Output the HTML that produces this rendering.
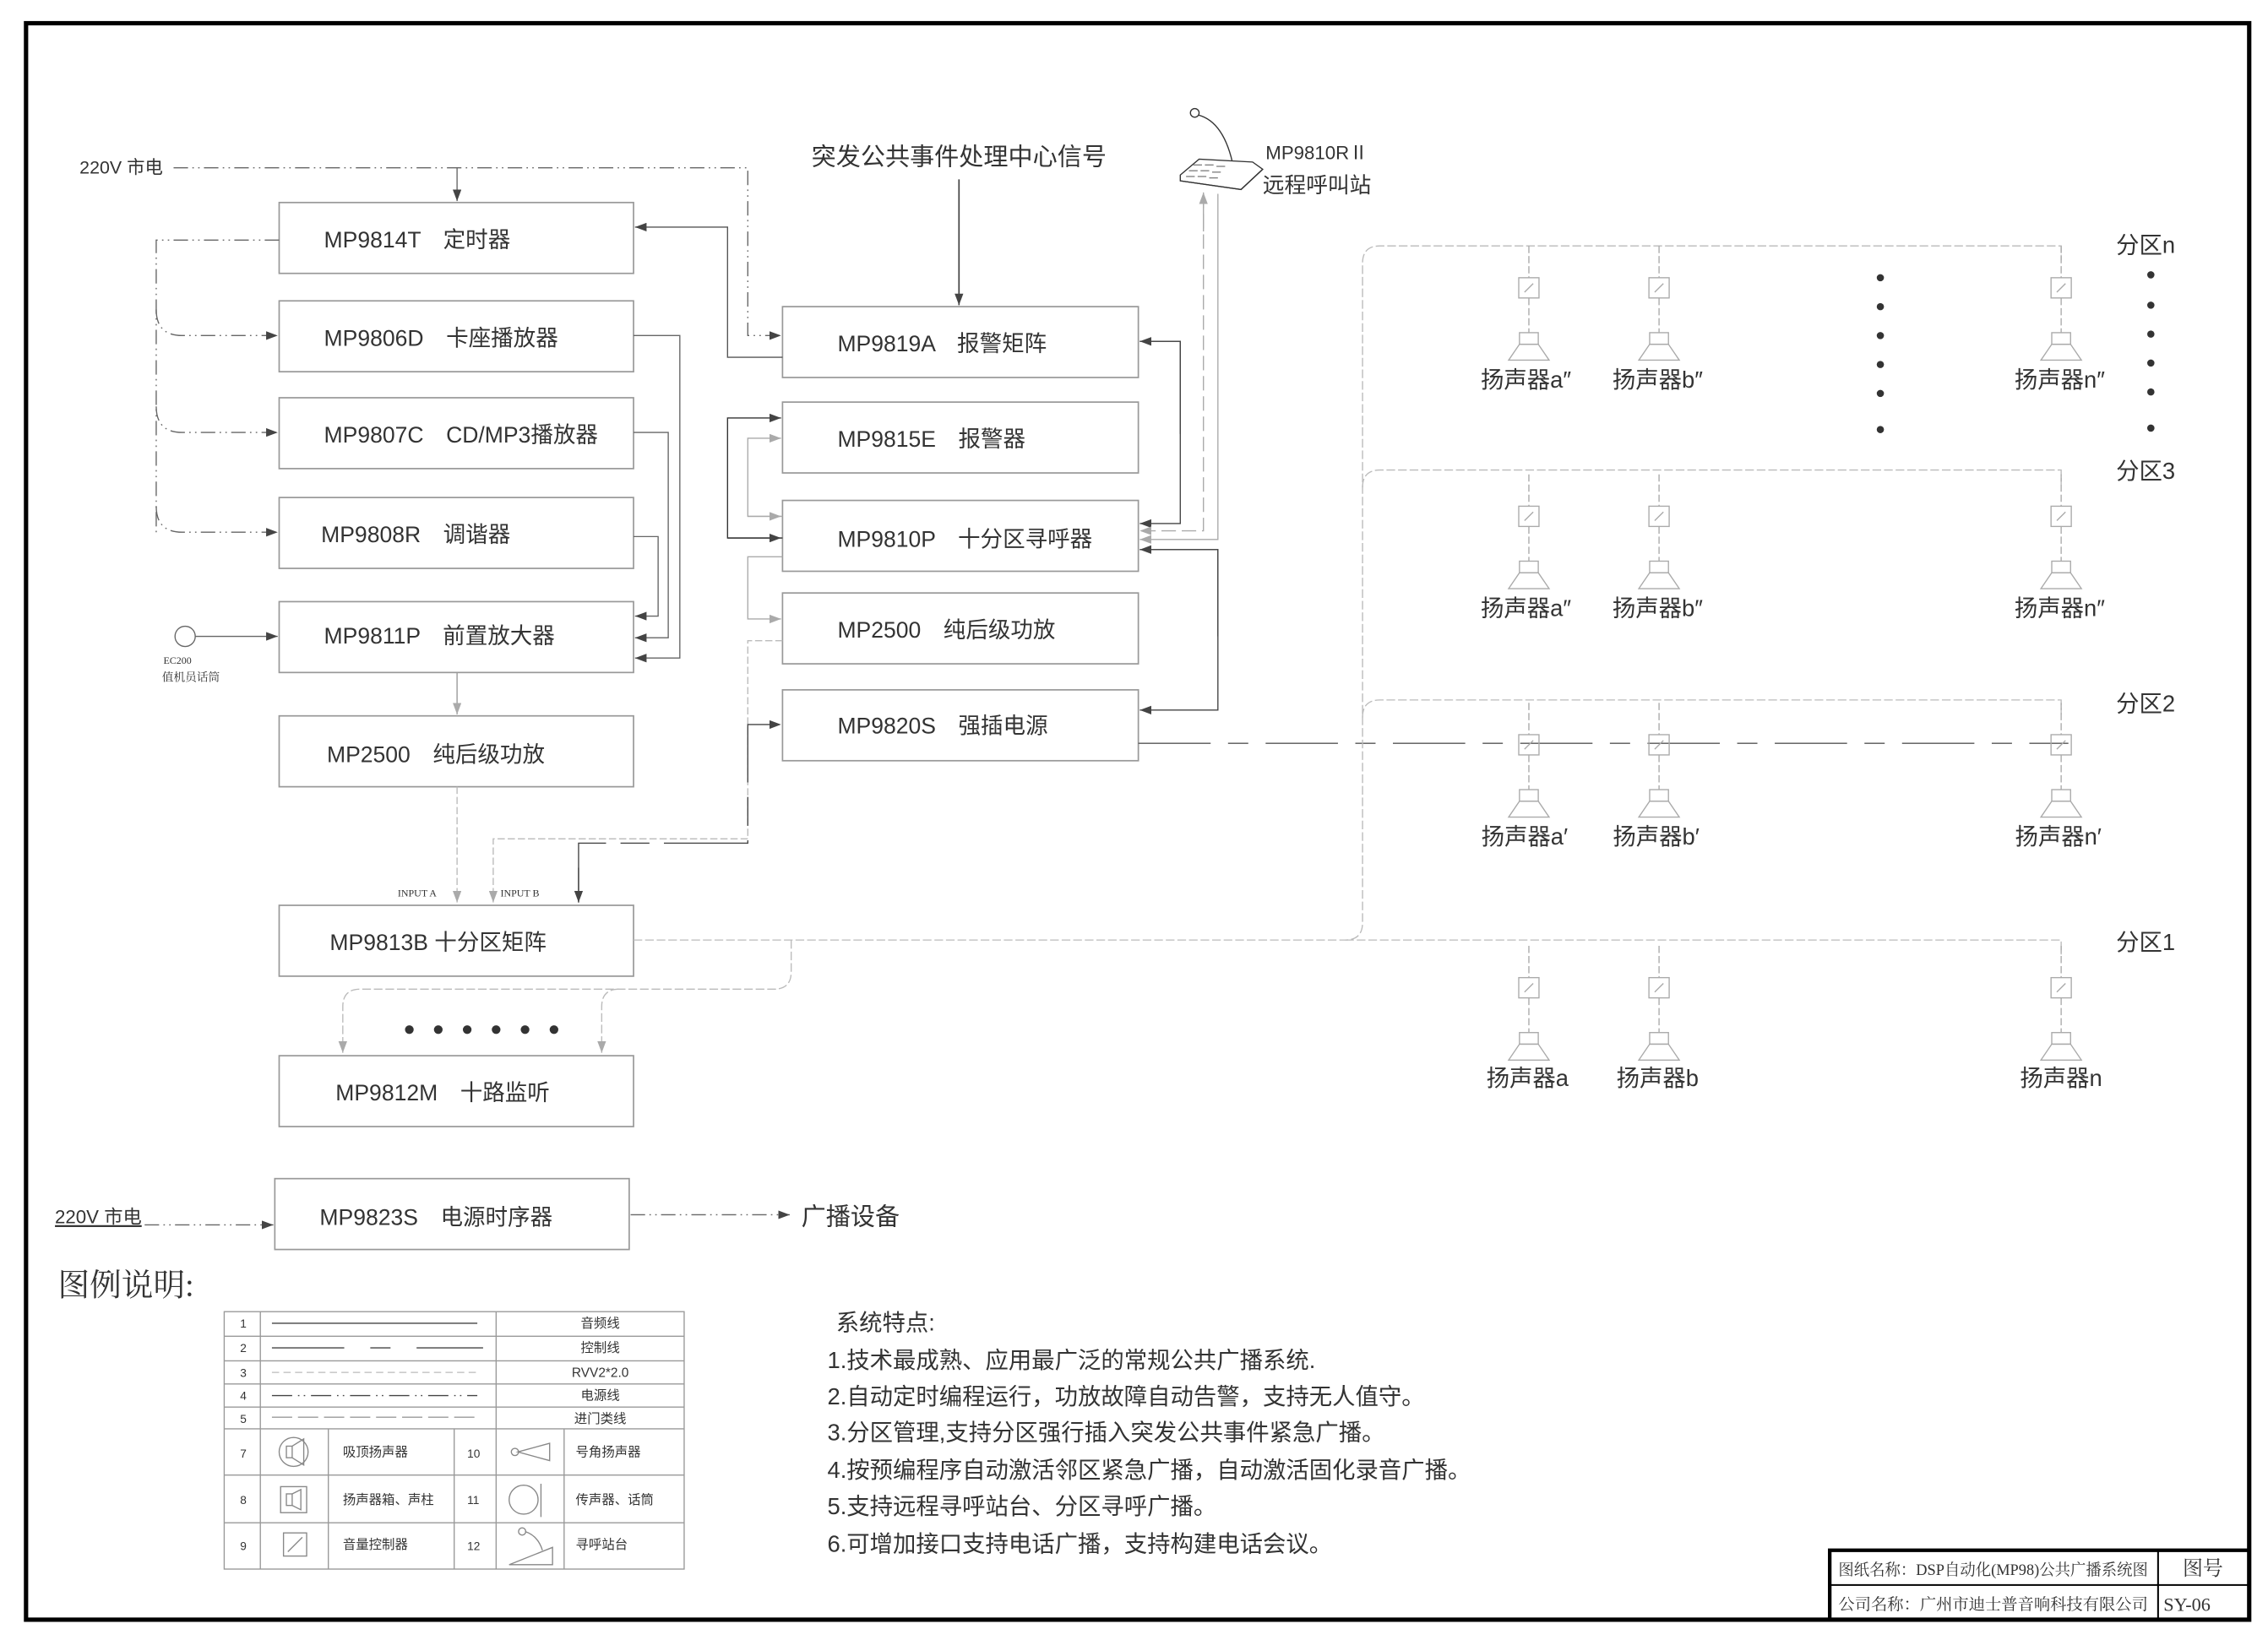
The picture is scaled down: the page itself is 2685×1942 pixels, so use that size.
<!DOCTYPE html>
<html><head><meta charset="utf-8"><style>
html,body{margin:0;padding:0;background:#fff}
svg{display:block}
text{font-family:"Liberation Sans","Noto Sans CJK SC",sans-serif;fill:#333}
.s{font-family:"Liberation Serif","Noto Serif CJK SC","Noto Sans CJK SC",serif}
</style></head><body>
<svg width="2685" height="1942" viewBox="0 0 1568 1134" xmlns="http://www.w3.org/2000/svg">
<defs>
<marker id="a" markerWidth="8" markerHeight="6" refX="8" refY="3" orient="auto" markerUnits="userSpaceOnUse"><path d="M0,0L8,3L0,6z" fill="#444"/></marker>
<marker id="g" markerWidth="8" markerHeight="6" refX="8" refY="3" orient="auto" markerUnits="userSpaceOnUse"><path d="M0,0L8,3L0,6z" fill="#aaa"/></marker>
<g id="spk" fill="none" stroke="#aaa" stroke-width="0.8">
<line x1="0" y1="0" x2="0" y2="22" stroke-dasharray="5,2"/>
<rect x="-7" y="22" width="14" height="14"/>
<line x1="-3" y1="32" x2="3" y2="26"/>
<line x1="0" y1="36" x2="0" y2="60" stroke-dasharray="5,2"/>
<rect x="-6.5" y="60" width="13" height="8"/>
<path d="M-6.5,68L6.5,68L14,79L-14,79Z"/>
</g>
</defs>
<rect width="1568" height="1134" fill="#fff"/>
<!-- frame -->
<rect x="18" y="16" width="1537" height="1104" fill="none" stroke="#000" stroke-width="3"/>
<!-- title block -->
<g fill="none" stroke="#000">
<rect x="1265" y="1072" width="290" height="48" stroke-width="2.5"/>
<line x1="1265" y1="1096" x2="1555" y2="1096" stroke-width="1.2"/>
<line x1="1492" y1="1072" x2="1492" y2="1120" stroke-width="1.2"/>
</g>
<text class="s" x="1271" y="1089" font-size="11" textLength="214" lengthAdjust="spacingAndGlyphs">图纸名称：DSP自动化(MP98)公共广播系统图</text>
<text class="s" x="1523" y="1089" font-size="14" text-anchor="middle">图号</text>
<text class="s" x="1271" y="1113" font-size="11" textLength="214" lengthAdjust="spacingAndGlyphs">公司名称：广州市迪士普音响科技有限公司</text>
<text class="s" x="1512" y="1114" font-size="13" text-anchor="middle">SY-06</text>

<!-- boxes -->
<g fill="none" stroke="#999" stroke-width="1">
<rect x="193" y="140" width="245" height="49"/>
<rect x="193" y="208" width="245" height="49"/>
<rect x="193" y="275" width="245" height="49"/>
<rect x="193" y="344" width="245" height="49"/>
<rect x="193" y="416" width="245" height="49"/>
<rect x="193" y="495" width="245" height="49"/>
<rect x="193" y="626" width="245" height="49"/>
<rect x="193" y="730" width="245" height="49"/>
<rect x="190" y="815" width="245" height="49"/>
<rect x="541" y="212" width="246" height="49"/>
<rect x="541" y="278" width="246" height="49"/>
<rect x="541" y="346" width="246" height="49"/>
<rect x="541" y="410" width="246" height="49"/>
<rect x="541" y="477" width="246" height="49"/>
</g>
<g font-size="15.5">
<text x="224" y="171">MP9814T　定时器</text>
<text x="224" y="239">MP9806D　卡座播放器</text>
<text x="224" y="306">MP9807C　CD/MP3播放器</text>
<text x="222" y="375">MP9808R　调谐器</text>
<text x="224" y="445">MP9811P　前置放大器</text>
<text x="226" y="527">MP2500　纯后级功放</text>
<text x="228" y="657">MP9813B 十分区矩阵</text>
<text x="232" y="761">MP9812M　十路监听</text>
<text x="221" y="847">MP9823S　电源时序器</text>
<text x="579" y="243">MP9819A　报警矩阵</text>
<text x="579" y="309">MP9815E　报警器</text>
<text x="579" y="378">MP9810P　十分区寻呼器</text>
<text x="579" y="441">MP2500　纯后级功放</text>
<text x="579" y="507">MP9820S　强插电源</text>
</g>
<text x="663" y="114" font-size="17" text-anchor="middle">突发公共事件处理中心信号</text>
<line x1="663" y1="124" x2="663" y2="211" stroke="#444" marker-end="url(#a)"/>

<!-- power line -->
<text x="55" y="120" font-size="12.5">220V 市电</text>
<path d="M120,116H517V232H540" fill="none" stroke="#666" stroke-width="0.8" stroke-dasharray="10,3,1,3,1,3" marker-end="url(#a)"/>
<line x1="316" y1="116" x2="316" y2="139" stroke="#666" stroke-width="0.8" marker-end="url(#a)"/>
<path d="M541,247H503V157H439" fill="none" stroke="#555" stroke-width="0.8" marker-end="url(#a)"/>
<g fill="none" stroke="#666" stroke-width="0.8" stroke-dasharray="10,3,1,3,1,3">
<path d="M193,166H108V368"/>
<path d="M108,214Q108,232 126,232H192" marker-end="url(#a)"/>
<path d="M108,281Q108,299 126,299H192" marker-end="url(#a)"/>
<path d="M108,350Q108,368 126,368H192" marker-end="url(#a)"/>
</g>
<g fill="none" stroke="#666" stroke-width="0.8">
<path d="M438,232H470V455H439" marker-end="url(#a)"/>
<path d="M438,299H462V441H439" marker-end="url(#a)"/>
<path d="M438,371H455V426H439" marker-end="url(#a)"/>
<circle cx="128" cy="440" r="7"/>
<line x1="135" y1="440" x2="192" y2="440" marker-end="url(#a)"/>
<line x1="316" y1="465" x2="316" y2="494" marker-end="url(#g)" stroke="#999"/>
</g>
<text x="113" y="459" font-size="7" class="s">EC200</text>
<text x="112" y="471" font-size="8" class="s">值机员话筒</text>
<g fill="none" stroke="#bbb" stroke-width="0.8" stroke-dasharray="5,2">
<path d="M316,544V624" marker-end="url(#g)"/>
<path d="M541,443H517V580H341V624" marker-end="url(#g)"/>
</g>
<text x="275" y="620" font-size="7" class="s" fill="#555">INPUT A</text>
<text x="346" y="620" font-size="7" class="s" fill="#555">INPUT B</text>
<path d="M400,624V583H517V501H540" fill="none" stroke="#444" stroke-width="0.8" stroke-dasharray="60,10,20,10" marker-end="url(#a)"/>
<path d="M400,600V624" stroke="#444" stroke-width="0.8" marker-end="url(#a)"/>
<g fill="none" stroke-width="0.8">
<path d="M541,372H503V289H540" stroke="#333" marker-end="url(#a)"/>
<line x1="503" y1="372" x2="540" y2="372" stroke="#333" marker-end="url(#a)"/>
<path d="M541,357H517V303H540" stroke="#aaa" marker-end="url(#g)"/>
<line x1="517" y1="357" x2="540" y2="357" stroke="#aaa" marker-end="url(#g)"/>
<path d="M541,385H517V428H540" stroke="#aaa" marker-end="url(#g)"/>
<path d="M788,236H816V362H788" stroke="#444" marker-end="url(#a)"/>
<path d="M816,300V236H788" stroke="#444" marker-end="url(#a)"/>
<path d="M832,134V367H788" stroke="#aaa" stroke-dasharray="10,4" marker-end="url(#g)"/>
<line x1="832" y1="160" x2="832" y2="133" stroke="#aaa" marker-end="url(#g)"/>
<path d="M842,134V373H788" stroke="#aaa" marker-end="url(#g)"/>
<path d="M788,380H842V491H788" stroke="#444" marker-end="url(#a)"/>
<path d="M842,440V380H788" stroke="#444" marker-end="url(#a)"/>
<line x1="787" y1="514" x2="1430" y2="514" stroke="#555" stroke-dasharray="50,12,14,12"/>
</g>
<!-- remote station -->
<g fill="#fff" stroke="#333" stroke-width="0.8">
<path d="M826,79Q845,82 852,112" fill="none"/>
<ellipse cx="826" cy="78" rx="3" ry="3"/>
<path d="M816,121L829,110L866,112L873,117L858,131L816,125Z"/>
<path d="M816,125L858,131L873,117" fill="none"/>
<g fill="none" stroke="#555" stroke-width="0.6"><path d="M822,118h6M830,118h6M838,119h6M825,114h6M833,114h6M841,115h6M820,122h6M828,122h6M836,123h6"/></g>
</g>
<text x="875" y="110" font-size="13" fill="#444">MP9810RⅡ</text>
<text x="873" y="133" font-size="15" fill="#444">远程呼叫站</text>

<g fill="none" stroke="#bbb" stroke-width="0.8" stroke-dasharray="6,2">
<path d="M438,650H930Q942,650 942,638V182Q942,170 954,170H1425V180"/>
<path d="M942,337Q942,325 954,325H1425V335"/>
<path d="M942,496Q942,484 954,484H1425V494"/>
<path d="M930,650H1425V660"/>
<path d="M547,650V672Q547,684 535,684H249Q237,684 237,696V728" marker-end="url(#g)"/>
<path d="M428,684Q416,684 416,696V728" marker-end="url(#g)"/>
</g>
<g fill="#333">
<circle cx="283" cy="712" r="3"/><circle cx="303" cy="712" r="3"/><circle cx="323" cy="712" r="3"/><circle cx="343" cy="712" r="3"/><circle cx="363" cy="712" r="3"/><circle cx="383" cy="712" r="3"/>
<circle cx="1300" cy="192" r="2.5"/><circle cx="1300" cy="212" r="2.5"/><circle cx="1300" cy="232" r="2.5"/><circle cx="1300" cy="252" r="2.5"/><circle cx="1300" cy="272" r="2.5"/><circle cx="1300" cy="297" r="2.5"/>
<circle cx="1487" cy="190" r="2.5"/><circle cx="1487" cy="211" r="2.5"/><circle cx="1487" cy="231" r="2.5"/><circle cx="1487" cy="251" r="2.5"/><circle cx="1487" cy="271" r="2.5"/><circle cx="1487" cy="296" r="2.5"/>
</g>
<use href="#spk" x="1057" y="170"/><use href="#spk" x="1147" y="170"/><use href="#spk" x="1425" y="170"/>
<use href="#spk" x="1057" y="328"/><use href="#spk" x="1147" y="328"/><use href="#spk" x="1425" y="328"/>
<use href="#spk" x="1057" y="486"/><use href="#spk" x="1147" y="486"/><use href="#spk" x="1425" y="486"/>
<use href="#spk" x="1057" y="654"/><use href="#spk" x="1147" y="654"/><use href="#spk" x="1425" y="654"/>
<g font-size="16" fill="#444" text-anchor="middle">
<text x="1055" y="268">扬声器a″</text><text x="1146" y="268">扬声器b″</text><text x="1424" y="268">扬声器n″</text>
<text x="1055" y="426">扬声器a″</text><text x="1146" y="426">扬声器b″</text><text x="1424" y="426">扬声器n″</text>
<text x="1054" y="584">扬声器a′</text><text x="1145" y="584">扬声器b′</text><text x="1423" y="584">扬声器n′</text>
<text x="1056" y="751">扬声器a</text><text x="1146" y="751">扬声器b</text><text x="1425" y="751">扬声器n</text>
</g>
<g font-size="16" fill="#444">
<text x="1463" y="175">分区n</text><text x="1463" y="331">分区3</text><text x="1463" y="492">分区2</text><text x="1463" y="657">分区1</text>
</g>

<text x="38" y="846" font-size="13" text-decoration="underline">220V 市电</text>
<line x1="100" y1="847" x2="189" y2="847" stroke="#666" stroke-width="0.8" stroke-dasharray="10,3,1,3,1,3" marker-end="url(#a)"/>
<line x1="436" y1="840" x2="546" y2="840" stroke="#666" stroke-width="0.8" stroke-dasharray="10,3,1,3,1,3" marker-end="url(#a)"/>
<text x="554" y="847" font-size="17">广播设备</text>

<text x="40" y="896" font-size="22" fill="#888" class="s">图例说明:</text>
<g fill="none" stroke="#999" stroke-width="0.8">
<rect x="155" y="907" width="318" height="178"/>
<line x1="155" y1="924" x2="473" y2="924"/><line x1="155" y1="941" x2="473" y2="941"/>
<line x1="155" y1="957" x2="473" y2="957"/><line x1="155" y1="973" x2="473" y2="973"/>
<line x1="155" y1="988" x2="473" y2="988"/><line x1="155" y1="1020" x2="473" y2="1020"/>
<line x1="155" y1="1053" x2="473" y2="1053"/>
<line x1="180" y1="907" x2="180" y2="1085"/><line x1="343" y1="907" x2="343" y2="1085"/>
<line x1="227" y1="988" x2="227" y2="1085"/><line x1="314" y1="988" x2="314" y2="1085"/><line x1="390" y1="988" x2="390" y2="1085"/>
</g>
<g stroke-width="0.8" fill="none">
<line x1="188" y1="915" x2="330" y2="915" stroke="#444"/>
<line x1="188" y1="932" x2="334" y2="932" stroke="#444" stroke-dasharray="50,18,14,18"/>
<line x1="188" y1="949" x2="330" y2="949" stroke="#bbb" stroke-dasharray="5,3"/>
<line x1="188" y1="965" x2="330" y2="965" stroke="#444" stroke-dasharray="14,4,1,3,1,4"/>
<line x1="188" y1="980" x2="330" y2="980" stroke="#999" stroke-dasharray="14,4"/>
<g stroke="#888">
<circle cx="203" cy="1004" r="10"/><rect x="198" y="1000" width="4" height="8"/><path d="M202,1000L210,995V1013L202,1008"/>
<rect x="194" y="1028" width="18" height="18"/><rect x="198" y="1033" width="4" height="8"/><path d="M202,1033L208,1030V1044L202,1041"/>
<rect x="196" y="1060" width="16" height="16"/><line x1="199" y1="1073" x2="209" y2="1063"/>
<circle cx="356" cy="1004" r="2.5"/><path d="M358,1004L380,998V1010Z"/>
<circle cx="362" cy="1037" r="10"/><line x1="374" y1="1026" x2="374" y2="1049"/>
<circle cx="361" cy="1059" r="2.5"/><path d="M363,1059Q372,1062 375,1072"/><path d="M352,1082L382,1082L382,1070Z"/>
</g>
</g>
<g font-size="8" class="s" fill="#666">
<text x="166" y="918">1</text><text x="166" y="935">2</text><text x="166" y="952">3</text><text x="166" y="968">4</text><text x="166" y="984">5</text>
<text x="166" y="1008">7</text><text x="166" y="1040">8</text><text x="166" y="1072">9</text>
<text x="323" y="1008">10</text><text x="323" y="1040">11</text><text x="323" y="1072">12</text>
</g>
<g font-size="9" class="s" fill="#444" text-anchor="middle">
<text x="415" y="918">音频线</text><text x="415" y="935">控制线</text><text x="415" y="952">RVV2*2.0</text><text x="415" y="968">电源线</text><text x="415" y="984">进门类线</text>
</g>
<g font-size="9" class="s" fill="#444">
<text x="237" y="1007">吸顶扬声器</text><text x="237" y="1040">扬声器箱、声柱</text><text x="237" y="1071">音量控制器</text>
<text x="398" y="1007">号角扬声器</text><text x="398" y="1040">传声器、话筒</text><text x="398" y="1071">寻呼站台</text>
</g>

<g font-size="16" fill="#444" class="s">
<text x="578" y="920">系统特点:</text>
<text x="572" y="946">1.技术最成熟、应用最广泛的常规公共广播系统.</text>
<text x="572" y="971">2.自动定时编程运行，功放故障自动告警，支持无人值守。</text>
<text x="572" y="996">3.分区管理,支持分区强行插入突发公共事件紧急广播。</text>
<text x="572" y="1022">4.按预编程序自动激活邻区紧急广播，自动激活固化录音广播。</text>
<text x="572" y="1047">5.支持远程寻呼站台、分区寻呼广播。</text>
<text x="572" y="1073">6.可增加接口支持电话广播，支持构建电话会议。</text>
</g>
</svg>
</body></html>
